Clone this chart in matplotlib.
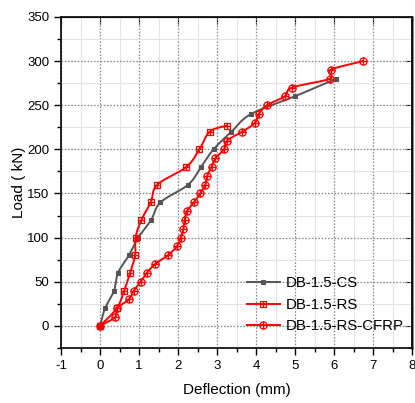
import matplotlib
matplotlib.use("Agg")
import matplotlib.pyplot as plt
import numpy as np
from matplotlib.path import Path
from matplotlib.lines import Line2D
from matplotlib.ticker import MultipleLocator

plt.rcParams['font.family'] = ['Liberation Sans', 'DejaVu Sans']
plt.rcParams['axes.unicode_minus'] = False

cs_x = [0, 0.13, 0.36, 0.46, 0.74, 0.98, 1.31, 1.55, 2.26, 2.59, 2.91, 3.37, 3.87, 4.99, 6.06]
cs_y = [0, 20, 40, 60, 80, 100, 120, 140, 160, 180, 200, 220, 240, 260, 280]

rs_x = [0, 0.43, 0.62, 0.77, 0.90, 0.91, 1.06, 1.30, 1.47, 2.21, 2.55, 2.81, 3.25]
rs_y = [0, 20, 40, 60, 80, 100, 120, 140, 160, 180, 200, 220, 227]

cf_x = [0, 0.39, 0.44, 0.74, 0.87, 1.04, 1.20, 1.41, 1.74, 1.97, 2.07, 2.14, 2.17, 2.23,
        2.41, 2.57, 2.70, 2.75, 2.86, 2.96, 3.18, 3.26, 3.65, 3.97, 4.07, 4.28, 4.74,
        4.92, 5.89, 5.91, 6.74]
cf_y = [0, 10, 20, 30, 40, 50, 60, 70, 80, 90, 100, 110, 120, 130, 140, 150, 160, 170,
        180, 190, 200, 210, 220, 230, 240, 250, 260, 270, 280, 290, 300]

labels = ['DB-1.5-CS', 'DB-1.5-RS', 'DB-1.5-RS-CFRP']


def smooth(x, y, n=16):
    """Catmull-Rom rendering of the polyline through the data points."""
    p = np.column_stack([x, y]).astype(float)
    p = np.vstack([p[0] * 2 - p[1], p, p[-1] * 2 - p[-2]])
    out = []
    t = np.linspace(0, 1, n, endpoint=False)[:, None]
    for i in range(1, len(p) - 2):
        p0, p1, p2, p3 = p[i - 1], p[i], p[i + 1], p[i + 2]
        seg = 0.5 * ((2 * p1) + (-p0 + p2) * t + (2 * p0 - 5 * p1 + 4 * p2 - p3) * t ** 2
                     + (-p0 + 3 * p1 - 3 * p2 + p3) * t ** 3)
        out.append(seg)
    out.append(p[-2][None, :])
    out = np.vstack(out)
    return out[:, 0], out[:, 1]


# custom markers
sq = Path([(-1, -1), (1, -1), (1, 1), (-1, 1), (-1, -1), (-1, 0), (1, 0), (0, -1), (0, 1)],
          [Path.MOVETO, Path.LINETO, Path.LINETO, Path.LINETO, Path.CLOSEPOLY,
           Path.MOVETO, Path.LINETO, Path.MOVETO, Path.LINETO])
cross = Path([(-1, 0), (1, 0), (0, -1), (0, 1)],
             [Path.MOVETO, Path.LINETO, Path.MOVETO, Path.LINETO])
circ = Path.make_compound_path(Path.unit_circle(), cross)

styles = [
    dict(color='#555555', marker='s', ms=3, mfc='#555555', mec='#555555', mew=0.8),
    dict(color='#ff0000', marker=sq, ms=4.6, mfc='none', mec='#ff0000', mew=0.9),
    dict(color='#ff0000', marker=circ, ms=5.2, mfc='none', mec='#ff0000', mew=0.9),
]

fig = plt.figure(figsize=(4.15, 4.03), dpi=100)
ax = fig.add_axes([0.147, 0.1365, 0.846, 0.8215])

handles = []
for i, (xs, ys) in enumerate([(cs_x, cs_y), (rs_x, rs_y), (cf_x, cf_y)]):
    st = styles[i]
    sx, sy = smooth(xs, ys)
    ax.plot(sx, sy, color=st['color'], lw=1.4, zorder=3 + i)
    ax.plot(xs, ys, ls='none', marker=st['marker'], ms=st['ms'], mfc=st['mfc'],
            mec=st['mec'], mew=st['mew'], zorder=3 + i)
    handles.append(Line2D([], [], color=st['color'], lw=1.4, marker=st['marker'], ms=st['ms'],
                          mfc=st['mfc'], mec=st['mec'], mew=st['mew']))

ax.set_xlim(-1, 8)
ax.set_ylim(-25, 350)
ax.xaxis.set_major_locator(MultipleLocator(1))
ax.xaxis.set_minor_locator(MultipleLocator(0.5))
ax.yaxis.set_major_locator(MultipleLocator(50))
ax.yaxis.set_minor_locator(MultipleLocator(25))

ax.grid(which='minor', color='#e3e3e3', lw=0.8, ls='-', zorder=0)
ax.grid(which='major', color='#8a8a8a', lw=0.9, ls=(0, (1.3, 1.3)), zorder=1)
ax.set_axisbelow(True)

ax.tick_params(which='both', direction='out', top=False, right=False, labelsize=9.5)
ax.tick_params(which='major', length=5, width=1)
ax.tick_params(which='minor', length=3, width=1)
axt = ax.secondary_xaxis('top')
axt.xaxis.set_major_locator(MultipleLocator(1))
axt.xaxis.set_minor_locator(MultipleLocator(0.5))
axt.tick_params(which='both', direction='in', labeltop=False)
axt.tick_params(which='major', length=5)
axt.tick_params(which='minor', length=3)
axr = ax.secondary_yaxis('right')
axr.yaxis.set_major_locator(MultipleLocator(50))
axr.yaxis.set_minor_locator(MultipleLocator(25))
axr.tick_params(which='both', direction='in', labelright=False)
axr.tick_params(which='major', length=5)
axr.tick_params(which='minor', length=3)

for s in ax.spines.values():
    s.set_linewidth(1.2)
axr.spines['right'].set_color('#666666')
axr.spines['right'].set_linewidth(1.8)

ax.set_xlabel('Deflection (mm)', fontsize=11, labelpad=8)
ax.set_ylabel('Load ( kN)', fontsize=11, labelpad=1)

leg = ax.legend(handles, labels, loc='lower right', bbox_to_anchor=(0.985, 0.035), frameon=False,
                fontsize=10.8, handlelength=2.2, handletextpad=0.4, labelspacing=0.5,
                borderaxespad=0.0, borderpad=0.2)

fig.savefig('out.png', dpi=100)
